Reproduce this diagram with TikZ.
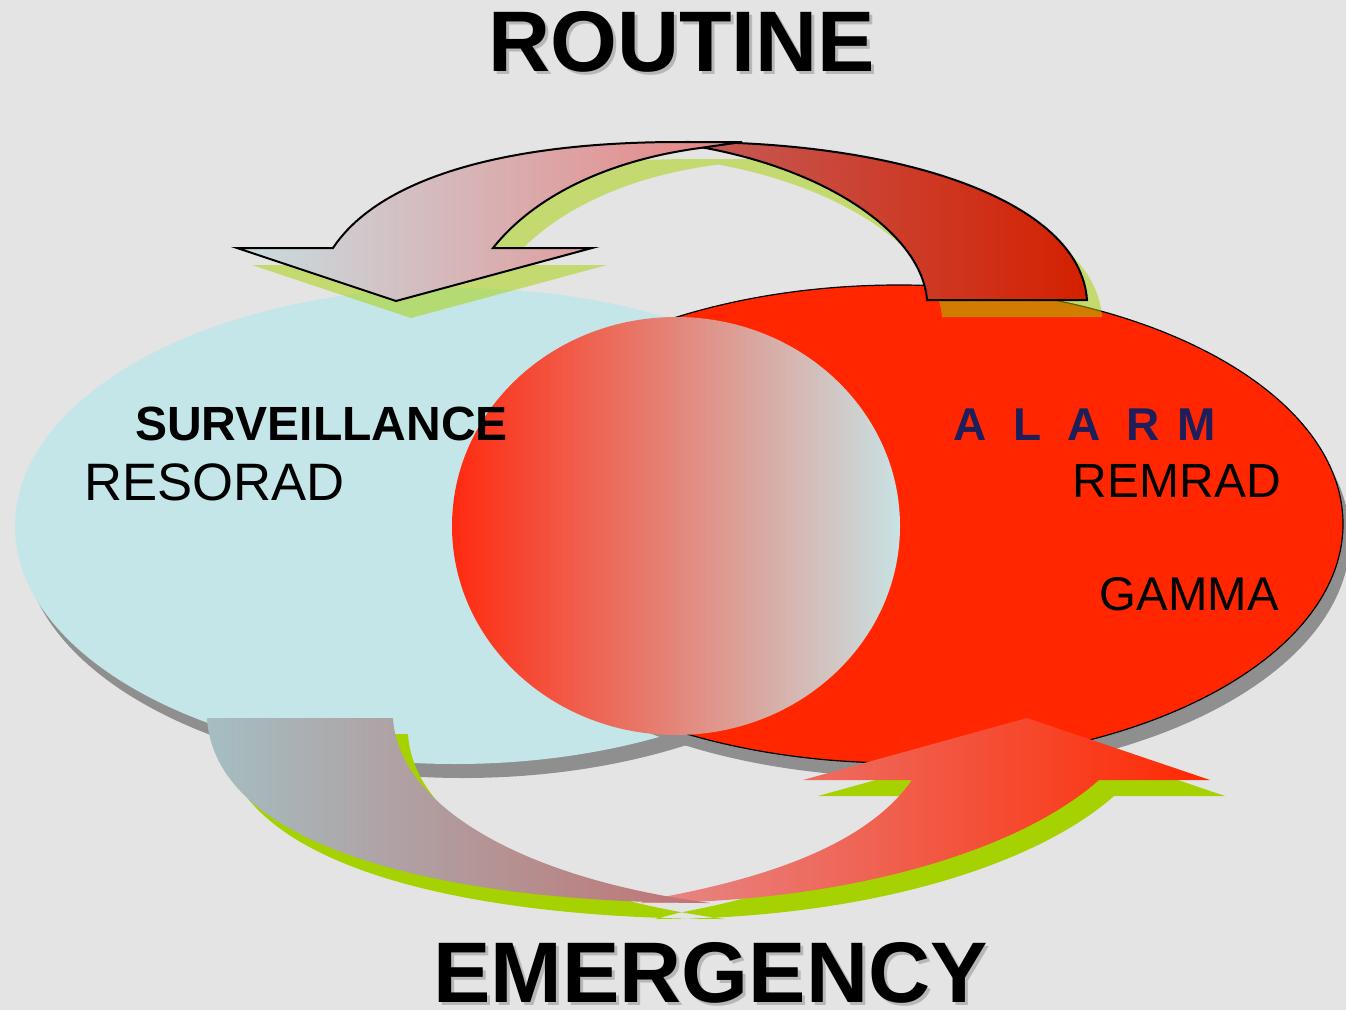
\documentclass[tikz,border=0pt]{standalone}
\usepackage{fontspec}
\setmainfont{Liberation Sans}
\definecolor{bg}{HTML}{E4E4E4}
\definecolor{cyanfill}{HTML}{C4E6E8}
\definecolor{redfill}{HTML}{FF2600}
\definecolor{shadowgray}{HTML}{8F8F8F}
\definecolor{arrowgreen}{HTML}{A5D200}
\definecolor{navy}{HTML}{1E1E5A}
\definecolor{midleft}{HTML}{FF2A10}
\definecolor{midright}{HTML}{C8E2E4}
\definecolor{topAleft}{HTML}{C8DEE2}
\definecolor{topAright}{HTML}{E98282}
\definecolor{topBleft}{HTML}{C45C58}
\definecolor{topBright}{HTML}{D42000}
\definecolor{mauveleft}{HTML}{A5BEC2}
\definecolor{mauveright}{HTML}{C07272}
\definecolor{pinkleft}{HTML}{E58A8A}
\definecolor{pinkright}{HTML}{FF2800}
\definecolor{titleshadow}{HTML}{9A9A9A}
\newcommand\mauveband{(207,718) -- (393,718) .. controls (398,805) and (520,878) .. (710,903) .. controls (450,903) and (215,850) .. (207,718) -- cycle}
\newcommand\pinkband{(640,903) .. controls (850,903) and (1020,850) .. (1099,780) -- (1210,780) -- (1027,718) -- (803,780) -- (912,780) .. controls (870,840) and (780,875) .. (663,897) -- cycle}
\newcommand\topB{(690,142) .. controls (900,142) and (1080,200) .. (1087,300) -- (927,300) .. controls (922,235) and (830,170) .. (700,147) -- cycle}
\newcommand\topA{(237,248) -- (333,248) .. controls (378,180) and (500,142) .. (680,142) -- (742,142) -- (700,148) .. controls (610,160) and (535,195) .. (493,248) -- (592,248) -- (396,301) -- cycle}
\tikzset{
  titletext/.style={anchor=base, inner sep=0pt, font=\fontsize{64.5pt}{70pt}\selectfont\bfseries},
  labeltext/.style={inner sep=0pt, font=\fontsize{35.5pt}{40pt}\selectfont},
  alarmletter/.style={anchor=base, inner sep=0pt, text=navy, font=\fontsize{34.5pt}{40pt}\selectfont\bfseries},
  outline/.style={draw=black, line width=1.5pt}
}
\begin{document}
\begin{tikzpicture}[x=0.75pt,y=-0.75pt]
\useasboundingbox (0,0) rectangle (1346,1010);
\fill[bg] (0,0) rectangle (1346,1010);
% left ellipse
\fill[shadowgray] (463,540) ellipse [x radius=440, y radius=238];
\fill[cyanfill] (455,526) ellipse [x radius=440, y radius=238];
% right ellipse
\fill[shadowgray] (906,538) ellipse [x radius=444, y radius=239];
\filldraw[fill=redfill, draw=black, line width=0.9pt] (899,524) ellipse [x radius=444, y radius=239];
% middle ellipse
\shade[left color=midleft, right color=midright] (676,526) ellipse [x radius=224, y radius=209];
% bottom arrow
\fill[arrowgreen, shift={(15,16)}] \mauveband \pinkband;
\shade[left color=pinkleft, right color=pinkright] \pinkband;
\shade[left color=mauveleft, right color=mauveright] \mauveband;
% top arrow
\fill[arrowgreen, opacity=0.5, shift={(15,17)}] \topB \topA;
\shadedraw[left color=topBleft, right color=topBright, outline] \topB;
\shadedraw[left color=topAleft, right color=topAright, outline] \topA;
% titles
\node[titletext, text=titleshadow, opacity=0.6] at (684.5,74) {ROUTINE};
\node[titletext] (routine) at (681.5,71) {ROUTINE};
\node[titletext, text=titleshadow, opacity=0.6] at (713.5,1005) {EMERGENCY};
\node[titletext] (emergency) at (710.5,1002) {EMERGENCY};
% labels
\node[labeltext, anchor=base west, font=\fontsize{36pt}{40pt}\selectfont\bfseries] (surv) at (135,440) {SURVEILLANCE};
\node[labeltext, anchor=base west, font=\fontsize{39.5pt}{44pt}\selectfont] (resorad) at (84,500) {RESORAD};
\node[alarmletter] (al1) at (970,440) {A};
\node[alarmletter] (al2) at (1028,440) {L};
\node[alarmletter] (al3) at (1084,440) {A};
\node[alarmletter] (al4) at (1143,440) {R};
\node[alarmletter] (al5) at (1197,440) {M};
\node[labeltext, anchor=base east, font=\fontsize{36pt}{40pt}\selectfont] (remrad) at (1281,497) {REMRAD};
\node[labeltext, anchor=base east] (gamma) at (1279,610) {GAMMA};
\end{tikzpicture}
\end{document}
